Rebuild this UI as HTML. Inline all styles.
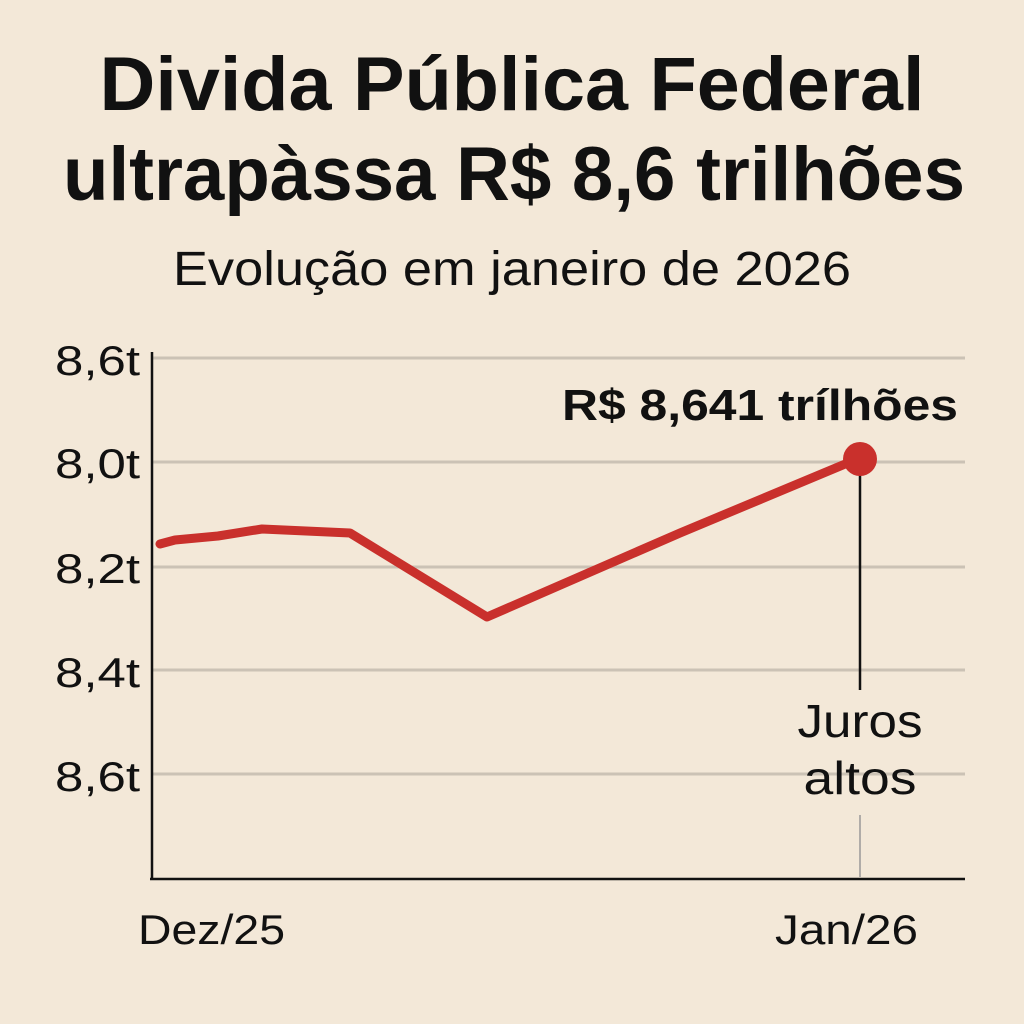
<!DOCTYPE html>
<html><head><meta charset="utf-8"><style>
html,body{margin:0;padding:0;background:#f3e8d8;}
svg{display:block}
text{font-family:"Liberation Sans","DejaVu Sans",sans-serif;fill:#111}
</style></head><body>
<svg width="1024" height="1024" viewBox="0 0 1024 1024">
<rect width="1024" height="1024" fill="#f3e8d8"/>
<text x="512" y="110" text-anchor="middle" font-size="76" font-weight="bold" textLength="825" lengthAdjust="spacingAndGlyphs">Divida Pública Federal</text>
<text x="514" y="200" text-anchor="middle" font-size="76" font-weight="bold" textLength="902" lengthAdjust="spacingAndGlyphs">ultrapàssa R$ 8,6 trilhões</text>
<text x="512" y="285" text-anchor="middle" font-size="48" textLength="678" lengthAdjust="spacingAndGlyphs">Evolução em janeiro de 2026</text>
<g stroke="#cbc2b5" stroke-width="3">
<line x1="152" y1="358" x2="965" y2="358"/>
<line x1="152" y1="462" x2="965" y2="462"/>
<line x1="152" y1="567" x2="965" y2="567"/>
<line x1="152" y1="670" x2="965" y2="670"/>
<line x1="152" y1="774" x2="965" y2="774"/>
</g>
<g stroke="#111" stroke-width="2.5">
<line x1="152" y1="352" x2="152" y2="879"/>
<line x1="150" y1="879" x2="965" y2="879"/>
<line x1="860" y1="460" x2="860" y2="690"/>
<line x1="860" y1="815" x2="860" y2="877" stroke="#999" stroke-width="1.5"/>
</g>
<g font-size="42">
<text x="55" y="375" textLength="85" lengthAdjust="spacingAndGlyphs">8,6t</text>
<text x="55" y="478" textLength="85" lengthAdjust="spacingAndGlyphs">8,0t</text>
<text x="55" y="583" textLength="85" lengthAdjust="spacingAndGlyphs">8,2t</text>
<text x="55" y="687" textLength="85" lengthAdjust="spacingAndGlyphs">8,4t</text>
<text x="55" y="791" textLength="85" lengthAdjust="spacingAndGlyphs">8,6t</text>
<text x="138" y="944" textLength="147" lengthAdjust="spacingAndGlyphs">Dez/25</text>
<text x="775" y="944" textLength="143" lengthAdjust="spacingAndGlyphs">Jan/26</text>
</g>
<polyline points="160,544 175,540 218,536 262,529 350,533 487,617 680,533 850,462" fill="none" stroke="#c9302c" stroke-width="9" stroke-linejoin="round" stroke-linecap="round"/>
<circle cx="860" cy="459" r="17" fill="#c9302c"/>
<text x="760" y="420" text-anchor="middle" font-size="44" font-weight="bold" textLength="396" lengthAdjust="spacingAndGlyphs">R$ 8,641 trílhões</text>
<text x="860" y="737" text-anchor="middle" font-size="46" font-weight="500" textLength="125" lengthAdjust="spacingAndGlyphs">Juros</text>
<text x="860" y="794" text-anchor="middle" font-size="46" textLength="113" lengthAdjust="spacingAndGlyphs">altos</text>
</svg>
</body></html>
